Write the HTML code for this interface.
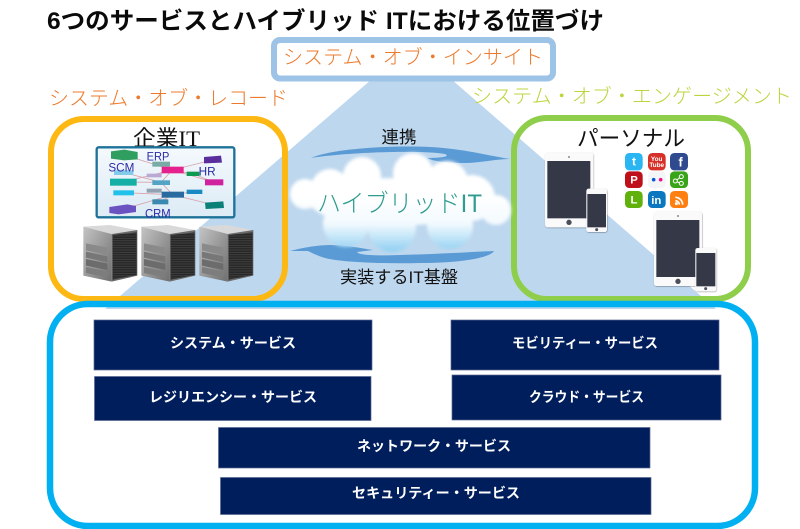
<!DOCTYPE html>
<html lang="ja">
<head>
<meta charset="utf-8">
<title>6つのサービスとハイブリッド ITにおける位置づけ</title>
<style>
html,body{margin:0;padding:0;background:#fff;width:800px;height:529px;overflow:hidden}
svg{display:block}
text{font-family:"Liberation Sans","Noto Sans CJK JP",sans-serif}
.svc{fill:#fff;font-weight:700;font-size:14px}
.org{fill:#ec7a2c;font-size:20px;font-weight:300}
.blk{fill:#111;font-size:17px}
.net{fill:#2b2ba8;font-size:36px;font-family:"Liberation Sans",sans-serif}
</style>
</head>
<body>
<svg width="800" height="529" viewBox="0 0 800 529" xmlns="http://www.w3.org/2000/svg">
<defs>
<filter id="b2" x="-20%" y="-20%" width="140%" height="140%"><feGaussianBlur stdDeviation="1.6"/></filter>
<filter id="sh" x="-20%" y="-20%" width="140%" height="140%"><feDropShadow dx="1" dy="1.5" stdDeviation="1.5" flood-color="#000" flood-opacity=".45"/></filter>
<linearGradient id="cl" gradientUnits="userSpaceOnUse" x1="0" y1="195" x2="0" y2="252">
<stop offset="0" stop-color="#ffffff"/><stop offset=".5" stop-color="#f3fafe"/><stop offset="1" stop-color="#8fcff2"/>
</linearGradient>
<linearGradient id="side" x1="0" y1="0" x2="1" y2="1">
<stop offset="0" stop-color="#c4c4c4"/><stop offset="1" stop-color="#6f6f6f"/>
</linearGradient>
<linearGradient id="frame" x1="0" y1="0" x2="0" y2="1">
<stop offset="0" stop-color="#f4f9fd"/><stop offset="1" stop-color="#dcebf5"/>
</linearGradient>
<pattern id="grill" width="6" height="7" patternUnits="userSpaceOnUse"><rect width="6" height="7" fill="#262626"/><rect y="4" width="6" height="2" fill="#4a4a4a"/></pattern>
<g id="server">
<polygon points="0,5 80,0 162,15 85,27" fill="#d9d9d9"/>
<polygon points="0,5 85,27 85,170 0,152" fill="url(#side)"/>
<polygon points="85,27 162,15 162,152 85,170" fill="#6b6b6b"/>
<polygon points="88,30 160,22 160,150 88,164" fill="url(#grill)"/>
<polygon points="8,55 72,68 72,90 8,76" fill="#8a8a8a"/>
<polygon points="8,80 72,94 72,112 8,98" fill="#777"/>
<polygon points="8,102 72,116 72,135 8,122" fill="#6c6c6c"/>
<polygon points="8,126 72,140 72,158 8,144" fill="#7d7d7d"/>
</g>
</defs>

<rect width="800" height="529" fill="#fff"/>

<!-- Large triangle -->
<polygon points="372,79 451,79 716,309 105,309" fill="#bdd7ee"/>

<!-- Title -->
<text x="47" y="29" font-size="24" font-weight="700" fill="#0a0a0a" textLength="557" lengthAdjust="spacingAndGlyphs">6つのサービスとハイブリッド ITにおける位置づけ</text>

<!-- Insight box -->
<rect x="274" y="40" width="279" height="38.500" rx="6" fill="#fff"/>
<rect x="274" y="40" width="279" height="38.500" rx="6" fill="none" stroke="#9dc3e6" stroke-width="6"/>
<text class="org" x="283" y="64" textLength="260" lengthAdjust="spacingAndGlyphs">システム・オブ・インサイト</text>
<text class="org" x="49" y="105" textLength="239" lengthAdjust="spacingAndGlyphs">システム・オブ・レコード</text>
<text class="org" x="472" y="103" style="fill:#bdd43f" textLength="320" lengthAdjust="spacingAndGlyphs">システム・オブ・エンゲージメント</text>

<!-- Orange box -->
<rect x="51" y="119" width="234" height="180" rx="33" fill="none" stroke="#fdb813" stroke-width="6"/>
<!-- Green box -->
<rect x="514" y="118" width="234" height="181" rx="33" fill="none" stroke="#8fce4b" stroke-width="6"/>
<!-- Blue box -->
<rect x="50" y="304" width="705" height="222" rx="38" fill="none" stroke="#00b0f0" stroke-width="6.500"/>

<text x="133" y="146" font-size="22" fill="#111" textLength="67" lengthAdjust="spacingAndGlyphs" style='font-family:"Liberation Serif","Noto Sans CJK JP",serif'>企業IT</text>
<text x="577" y="146" font-size="22" fill="#111" textLength="108" lengthAdjust="spacingAndGlyphs">パーソナル</text>

<!-- ERP picture -->
<g transform="translate(40,110) scale(.33333)">
<rect x="170" y="112" width="413" height="210" rx="6" fill="url(#frame)" stroke="#1d7299" stroke-width="7"/>
<g stroke="#d8a3ad" stroke-width="2.500" fill="none">
<path d="M253 135L397 180M397 180L517 150M397 180L459 191M397 180L250 216M397 180L363 217M397 180L522 217M363 217L250 216M363 217L398 254M398 254L251 248M398 254L522 285M398 254L248 298M398 254L463 245M398 254L361 275M250 187L363 217M459 191L522 217M342 196L397 180M342 241L398 254"/>
</g>
<polygon points="213,124 253,119 293,126 293,148 253,151 213,146" fill="#2f9e5e"/>
<rect x="337" y="155" width="53" height="15" fill="#79aba6"/>
<rect x="365" y="170" width="66" height="20" fill="#e4218c"/>
<polygon points="492,141 543,137 546,158 492,160" fill="#5a2e9c"/>
<rect x="440" y="185" width="38" height="13" fill="#0f9a52"/>
<rect x="222" y="181" width="58" height="14" fill="#84cbe9"/>
<rect x="320" y="191" width="45" height="11" fill="#baa9d2"/>
<rect x="210" y="206" width="80" height="21" fill="#14b0a6"/>
<rect x="337" y="211" width="53" height="14" fill="#52a3c4"/>
<rect x="495" y="208" width="55" height="18" fill="#d0219f"/>
<rect x="220" y="241" width="62" height="15" fill="#22c1e9"/>
<rect x="320" y="236" width="45" height="12" fill="#93a2b2"/>
<rect x="365" y="245" width="67" height="18" fill="#2a6b9f"/>
<rect x="440" y="239" width="47" height="13" fill="#1a8ac2"/>
<rect x="337" y="268" width="48" height="15" fill="#3b89b1"/>
<polygon points="208,291 262,283 288,288 288,306 236,313 208,309" fill="#6b52c1"/>
<polygon points="495,278 550,274 552,294 497,297" fill="#0a8078"/>
<text class="net" x="320" y="151" textLength="68" lengthAdjust="spacingAndGlyphs">ERP</text>
<text class="net" x="205" y="185" textLength="78" lengthAdjust="spacingAndGlyphs">SCM</text>
<text class="net" x="476" y="197" textLength="51" lengthAdjust="spacingAndGlyphs">HR</text>
<text class="net" x="315" y="322" textLength="77" lengthAdjust="spacingAndGlyphs">CRM</text>
<use href="#server" x="130" y="345"/>
<use href="#server" x="304" y="345"/>
<use href="#server" x="478" y="345"/>
</g>

<!-- Personal devices -->
<g transform="translate(505,110) scale(.33333)">
<g filter="url(#sh)"><rect x="120" y="128" width="145" height="224" rx="8" fill="#fafafa"/></g>
<rect x="127" y="153" width="129" height="172" fill="#353846"/>
<circle cx="192" cy="337" r="8" fill="#4b4f5c"/><circle cx="192" cy="141" r="3" fill="#888"/>
<g filter="url(#sh)"><rect x="244" y="236" width="62" height="130" rx="7" fill="#fafafa"/></g>
<rect x="247" y="252" width="56" height="100" fill="#353846"/>
<circle cx="275" cy="359" r="4.500" fill="#4b4f5c"/>
<g filter="url(#sh)"><rect x="447" y="305" width="144" height="223" rx="8" fill="#fafafa"/></g>
<rect x="454" y="330" width="129" height="171" fill="#353846"/>
<circle cx="519" cy="514" r="8" fill="#4b4f5c"/><circle cx="519" cy="318" r="3" fill="#888"/>
<g filter="url(#sh)"><rect x="571" y="414" width="63" height="130" rx="7" fill="#fafafa"/></g>
<rect x="574" y="429" width="57" height="100" fill="#353846"/>
<circle cx="602" cy="536" r="4.500" fill="#4b4f5c"/>

<g font-weight="700" fill="#fff" text-anchor="middle">
<rect x="360" y="129" width="53" height="52" rx="13" fill="#29b6f2"/>
<text x="387" y="167" font-size="36">t</text>
<rect x="429" y="129" width="53" height="52" rx="13" fill="#d63029"/>
<text x="455" y="153" font-size="19">You</text><text x="455" y="171" font-size="19">Tube</text>
<rect x="495" y="129" width="54" height="52" rx="13" fill="#2f4a8f"/>
<text x="527" y="169" font-size="38">f</text>
<rect x="360" y="184" width="53" height="50" rx="13" fill="#bf101a"/>
<text x="387" y="220" font-size="34">P</text>
<rect x="429" y="184" width="53" height="50" rx="13" fill="#f4f5f7"/>
<circle cx="446" cy="209" r="5.500" fill="#0b55d2"/><circle cx="467" cy="209" r="5.500" fill="#f0108c"/>
<rect x="495" y="184" width="54" height="50" rx="13" fill="#39a419"/>
<g fill="none" stroke="#fff" stroke-width="3"><circle cx="511" cy="213" r="6"/><circle cx="529" cy="200" r="6"/><circle cx="529" cy="220" r="6"/><path d="M516 210L524 203M516 216L524 218"/></g>
<rect x="360" y="243" width="53" height="51" rx="13" fill="#60b10b"/>
<text x="387" y="280" font-size="34">L</text>
<rect x="429" y="243" width="53" height="51" rx="13" fill="#0a77c0"/>
<text x="454" y="282" font-size="34">in</text>
<rect x="495" y="243" width="54" height="51" rx="13" fill="#ff7f10"/>
<g fill="none" stroke="#fff" stroke-width="5"><path d="M511 262A22 22 0 0 1 533 284"/><path d="M511 272A12 12 0 0 1 523 284"/></g>
<circle cx="514" cy="281" r="4.500" fill="#fff"/>
</g>
</g>

<!-- Arrows -->
<path d="M311 158C330 149 390 145 430 147C465 149 485 155 510 159C495 159 480 163 465 163C450 163 435 162 427 158C445 158 450 156 445 154C420 150 350 152 311 158Z" fill="#5b9bd5"/>
<path d="M290 251C305 247 320 245 330 245C345 245 360 248 373 250L357 252C358 255 375 256 400 255C440 254 470 252 494 251C490 258 460 263 420 263C380 264 340 262 325 258C318 256 312 253 308 251Z" fill="#5b9bd5"/>

<!-- Cloud -->
<g fill="url(#cl)" filter="url(#b2)">
<circle cx="305" cy="194" r="15"/>
<circle cx="330" cy="188" r="19"/>
<circle cx="362" cy="176" r="19"/>
<circle cx="413" cy="173" r="20"/>
<circle cx="447" cy="182" r="21"/>
<circle cx="472" cy="198" r="23"/>
<circle cx="496" cy="210" r="15"/>
<circle cx="346" cy="224" r="23"/>
<circle cx="392" cy="228" r="24"/>
<circle cx="450" cy="226" r="23"/>
<ellipse cx="395" cy="202" rx="85" ry="24"/>
</g>

<text x="399" y="143" class="blk" text-anchor="middle" textLength="35" lengthAdjust="spacingAndGlyphs">連携</text>
<text x="340" y="283" class="blk" textLength="118" lengthAdjust="spacingAndGlyphs">実装するIT基盤</text>
<text x="317" y="212" font-size="25" font-weight="300" fill="#2f9c8e" textLength="165" lengthAdjust="spacingAndGlyphs">ハイブリッドIT</text>

<!-- Services -->
<g fill="#001e5c" stroke="#5d6a92" stroke-width=".7">
<rect x="94" y="320" width="278" height="50"/>
<rect x="94.500" y="376.500" width="276.500" height="44"/>
<rect x="451" y="320" width="268" height="50"/>
<rect x="452" y="375" width="269" height="45"/>
<rect x="218.500" y="427.500" width="431.500" height="40.500"/>
<rect x="220.500" y="477.500" width="430.500" height="37"/>
</g>
<text class="svc" x="170" y="348" textLength="126" lengthAdjust="spacingAndGlyphs">システム・サービス</text>
<text class="svc" x="149" y="402" textLength="168" lengthAdjust="spacingAndGlyphs">レジリエンシー・サービス</text>
<text class="svc" x="512" y="348" textLength="146" lengthAdjust="spacingAndGlyphs">モビリティー・サービス</text>
<text class="svc" x="529" y="402" textLength="115" lengthAdjust="spacingAndGlyphs">クラウド・サービス</text>
<text class="svc" x="357" y="451" textLength="154" lengthAdjust="spacingAndGlyphs">ネットワーク・サービス</text>
<text class="svc" x="352" y="498" textLength="168" lengthAdjust="spacingAndGlyphs">セキュリティー・サービス</text>
</svg>
</body>
</html>
